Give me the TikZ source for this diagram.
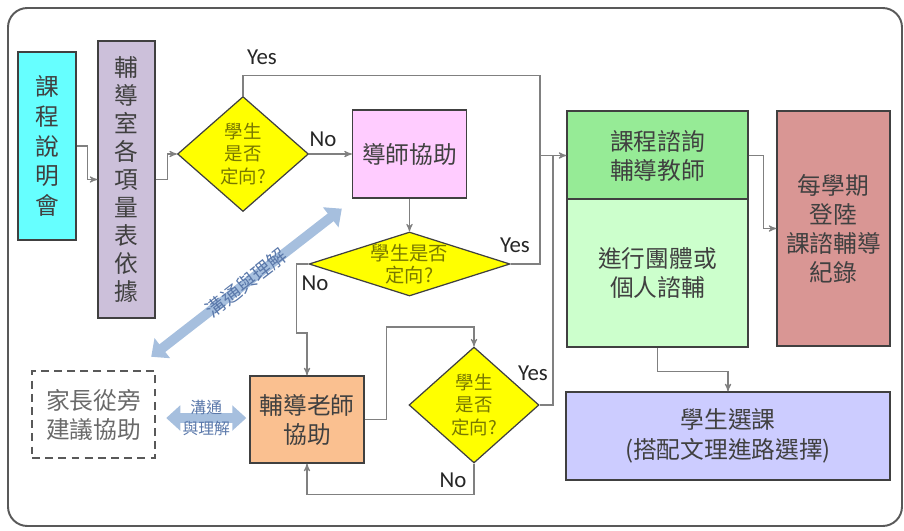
\documentclass[tikz,border=0pt]{standalone}
\usepackage{fontspec}
\setmainfont{Carlito}
\newfontfamily\cjk{Noto Sans CJK TC}
\usetikzlibrary{arrows}
\usetikzlibrary{arrows.meta}
\usetikzlibrary{shapes.geometric}

\definecolor{boxline}{RGB}{64,64,64}
\definecolor{linegray}{RGB}{128,128,128}
\definecolor{inkgray}{RGB}{64,64,64}
\definecolor{softgray}{RGB}{105,105,105}
\definecolor{askink}{RGB}{120,120,0}
\definecolor{askyellow}{RGB}{255,255,0}
\definecolor{fillcyan}{RGB}{102,255,255}
\definecolor{filllilac}{RGB}{204,192,218}
\definecolor{fillpink}{RGB}{255,204,255}
\definecolor{fillorange}{RGB}{250,192,144}
\definecolor{fillgreen}{RGB}{150,235,150}
\definecolor{fillmint}{RGB}{204,255,204}
\definecolor{fillrose}{RGB}{217,150,148}
\definecolor{fillblue}{RGB}{204,204,255}
\definecolor{talkblue}{RGB}{166,191,222}
\definecolor{talkink}{RGB}{90,120,170}

\begin{document}
\begin{tikzpicture}[x=0.02cm, y=-0.02cm,
  box/.style={draw=boxline, line width=0.8pt, inner sep=0pt, align=center,
    text=inkgray, font=\cjk\fontsize{13.5}{16.5}\selectfont},
  ask/.style={diamond, draw=boxline, line width=0.7pt, fill=askyellow, inner sep=0pt},
  asktext/.style={align=center, text=askink, font=\cjk\fontsize{10.5}{13}\selectfont},
  flow/.style={draw=linegray, line width=0.6pt, ->, >=stealth'},
  joint/.style={draw=linegray, line width=0.6pt},
  answer/.style={font=\fontsize{13}{15}\selectfont, text=black!85},
  talk/.style={draw=talkblue, line width=5.5pt,
    {Triangle[width=14pt,length=8pt]}-{Triangle[width=14pt,length=8pt]}},
  talktext/.style={text=talkink, align=center}
]
\useasboundingbox (0,0) rectangle (904,531);
\draw[draw=black!65, line width=1.1pt, rounded corners=11pt] (8,8) rectangle (902,526);

% left column
\node[box, fill=fillcyan, minimum width=1.16cm, minimum height=3.76cm,
  font=\cjk\fontsize{13.5}{17}\selectfont] (seminar) at (47,146) {課\\程\\說\\明\\會};
\node[box, fill=filllilac, minimum width=1.14cm, minimum height=5.54cm,
  font=\cjk\fontsize{13.5}{16}\selectfont] (scales) at (126.5,179.5) {輔\\導\\室\\各\\項\\量\\表\\依\\據};

% decisions and helpers
\node[ask, minimum width=2.62cm, minimum height=2.30cm,
  label={[asktext]center:學生\\是否\\定向?}] (dec1) at (243,154) {};
\node[box, fill=fillpink, minimum width=2.28cm, minimum height=1.76cm] (tutor) at (409.5,154) {導師協助};
\node[ask, minimum width=4.02cm, minimum height=1.28cm,
  label={[asktext, font=\cjk\fontsize{11}{12.5}\selectfont]center:學生是否\\定向?}] (dec2) at (409.5,264) {};
\node[box, fill=fillorange, minimum width=2.28cm, minimum height=1.74cm] (counselor) at (307,419.5) {輔導老師\\協助};
\node[ask, minimum width=2.60cm, minimum height=2.32cm,
  label={[asktext]center:學生\\是否\\定向?}] (dec3) at (474,405) {};
\node[box, draw=black!65, line width=1.4pt, dash pattern=on 4.5pt off 3pt,
  text=softgray, minimum width=2.46cm, minimum height=1.74cm] (parent) at (93.5,414.5) {家長從旁\\建議協助};

% right column
\node[box, fill=fillgreen, minimum width=3.62cm, minimum height=1.78cm] (consult) at (657.5,155.5) {課程諮詢\\輔導教師};
\node[box, fill=fillmint, minimum width=3.62cm, minimum height=2.96cm] (session) at (657.5,273) {進行團體或\\個人諮輔};
\node[box, fill=fillrose, minimum width=2.26cm, minimum height=4.70cm] (record) at (833.5,228.5) {每學期\\登陸\\課諮輔導\\紀錄};
\node[box, fill=fillblue, minimum width=6.48cm, minimum height=1.76cm,
  font=\cjk\fontsize{13.5}{17}\selectfont] (select) at (728,436) {學生選課\\(搭配文理進路選擇)};

% connectors
\draw[flow] (seminar.east) -- ++(11,0) |- (scales.west);
\draw[flow] (scales.east) -- ++(12,0) |- (dec1.west);
\draw[flow] (dec1.north) -- ++(0,-20) -| (540,155.5) -- (consult.west);
\draw[flow] (dec1.east) -- (tutor.west);
\draw[flow] (tutor.south) -- (dec2.north);
\draw[joint] (dec2.east) -| (540,155.5);
\draw[flow] (dec2.west) -- ++(-12,0) -- ++(0,69) -| (counselor.north);
\draw[flow] (counselor.east) -- ++(22,0) -- ++(0,-92.5) -| (dec3.north);
\draw[joint] (dec3.east) -| (553,155.5);
\draw[flow] (dec3.south) -- ++(0,31) -| (counselor.south);
\draw[flow] (consult.east) -- ++(15,0) |- (record.west);
\draw[flow] (session.south) -- ++(0,24) -| (select.north);

% answers
\node[answer] (yes1) at (262,57) {Yes};
\node[answer] (no1) at (323,139) {No};
\node[answer] (yes2) at (515,245) {Yes};
\node[answer] (no2) at (315,283) {No};
\node[answer] (yes3) at (533,373) {Yes};
\node[answer] (no3) at (453,480) {No};

% talking arrows
\draw[talk] ([shift={(-5,-13)}]parent.north east) -- ([shift={(-10,10)}]tutor.south west)
  node[midway, sloped, talktext, font=\cjk\fontsize{11}{13}\selectfont] (talk1) {溝通與理解};
\draw[talk] ([shift={(10,3.5)}]parent.east) -- ([shift={(-3,-1.5)}]counselor.west)
  node[midway, talktext, font=\cjk\fontsize{9}{11.5}\selectfont] (talk2) {溝通\\與理解};
\end{tikzpicture}
\end{document}
